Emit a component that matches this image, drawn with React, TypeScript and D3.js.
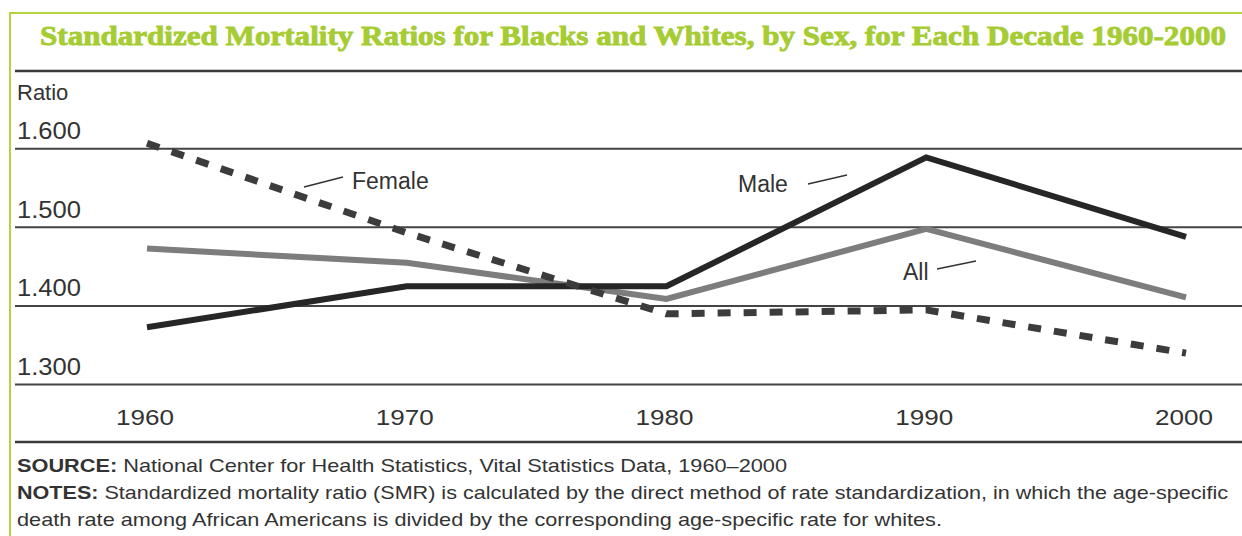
import * as d3 from "d3";

const years = [1960, 1970, 1980, 1990, 2000];
const female = [1.607, 1.493, 1.39, 1.395, 1.34];
const male = [1.373, 1.425, 1.425, 1.589, 1.488];
const all = [1.473, 1.455, 1.409, 1.498, 1.411];
const yTicks = [1.3, 1.4, 1.5, 1.6];
const yTickLabels = ["1.300", "1.400", "1.500", "1.600"];

const W = 1242;
const H = 536;
const green = "#b3d43f";
const sans = "'Liberation Sans', Arial, sans-serif";

export default function App() {
  const x = d3.scaleLinear().domain([1960, 2000]).range([147, 1186]);
  const y = d3.scaleLinear().domain([1.3, 1.6]).range([384.6, 148.7]);

  const line = d3
    .line<number>()
    .x((_, i) => x(years[i]))
    .y((d) => y(d));

  return (
    <svg width={W} height={H} style={{ position: "absolute", left: 0, top: 0 }}>
      <rect width={W} height={H} fill="#fff" />
      {/* green frame */}
      <line x1={10} x2={W} y1={13} y2={13} stroke={green} strokeWidth={2} />
      <line x1={10} x2={10} y1={12} y2={H} stroke={green} strokeWidth={2} />

      <text
        x={40}
        y={45}
        fill="#a6cc33"
        stroke="#a6cc33"
        strokeWidth={0.9}
        fontFamily="'Liberation Serif', 'DejaVu Serif', serif"
        fontWeight="bold"
        fontSize={28}
        textLength={1186}
        lengthAdjust="spacingAndGlyphs"
      >
        Standardized Mortality Ratios for Blacks and Whites, by Sex, for Each Decade 1960-2000
      </text>

      {/* separators */}
      <line x1={15} x2={W} y1={71} y2={71} stroke="#3a3a3a" strokeWidth={2.5} />
      <line x1={15} x2={W} y1={442} y2={442} stroke="#3a3a3a" strokeWidth={2.5} />

      <text x={17} y={100} fontFamily={sans} fontSize={22} fill="#333">
        Ratio
      </text>

      {yTicks.map((t, i) => (
        <g key={t}>
          <line x1={15} x2={W} y1={y(t)} y2={y(t)} stroke="#444" strokeWidth={2} />
          <text
            x={17}
            y={y(t) - 9.5}
            fontFamily={sans}
            fontSize={23}
            fill="#333"
            textLength={64}
            lengthAdjust="spacingAndGlyphs"
          >
            {yTickLabels[i]}
          </text>
        </g>
      ))}

      {years.map((yr) => (
        <text
          key={yr}
          x={x(yr) - 31}
          y={425}
          fontFamily={sans}
          fontSize={22}
          fill="#333"
          textLength={58}
          lengthAdjust="spacingAndGlyphs"
        >
          {yr}
        </text>
      ))}

      {/* series */}
      <path d={line(all) || ""} fill="none" stroke="#7d7d7d" strokeWidth={6} strokeLinejoin="miter" />
      <path d={line(male) || ""} fill="none" stroke="#262626" strokeWidth={6} strokeLinejoin="miter" />
      <path
        d={line(female) || ""}
        fill="none"
        stroke="#3c3c3c"
        strokeWidth={7}
        strokeDasharray="13 13"
      />

      {/* labels */}
      <line x1={304} y1={187} x2={343} y2={177} stroke="#333" strokeWidth={1.5} />
      <text x={352} y={189} fontFamily={sans} fontSize={23} fill="#333">
        Female
      </text>
      <text x={738} y={192} fontFamily={sans} fontSize={23} fill="#333">
        Male
      </text>
      <line x1={808} y1={184} x2={847} y2={175} stroke="#333" strokeWidth={1.5} />
      <text x={903} y={280} fontFamily={sans} fontSize={23} fill="#333">
        All
      </text>
      <line x1={937} y1={269} x2={976} y2={261} stroke="#333" strokeWidth={1.5} />

      {/* footnotes */}
      <text x={17} y={472} fontFamily={sans} fontSize={19} fill="#333" textLength={770} lengthAdjust="spacingAndGlyphs">
        <tspan fontWeight="bold">SOURCE:</tspan> National Center for Health Statistics, Vital Statistics Data, 1960–2000
      </text>
      <text x={17} y={499} fontFamily={sans} fontSize={19} fill="#333" textLength={1211} lengthAdjust="spacingAndGlyphs">
        <tspan fontWeight="bold">NOTES:</tspan> Standardized mortality ratio (SMR) is calculated by the direct method of rate standardization, in which the age-specific
      </text>
      <text x={17} y={526} fontFamily={sans} fontSize={19} fill="#333" textLength={925} lengthAdjust="spacingAndGlyphs">
        death rate among African Americans is divided by the corresponding age-specific rate for whites.
      </text>
    </svg>
  );
}
